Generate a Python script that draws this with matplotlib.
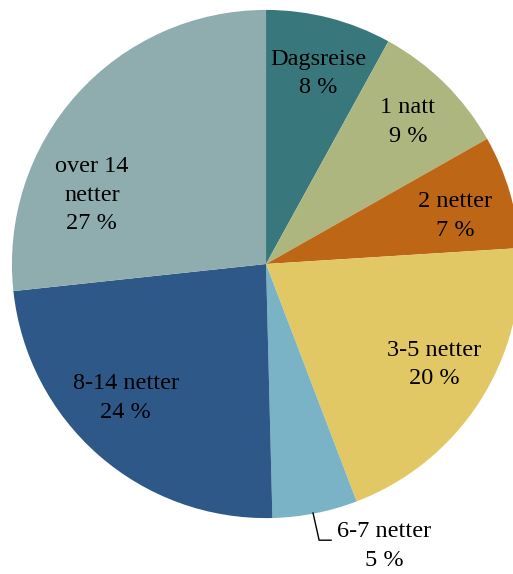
import matplotlib
matplotlib.use("Agg")
import matplotlib.pyplot as plt
import numpy as np

plt.rcParams.update({
    "font.family": ["Liberation Serif", "DejaVu Serif"],
    "font.size": 17.5,
})

categories = ["Dagsreise", "1 natt", "2 netter", "3-5 netter", "6-7 netter", "8-14 netter", "over 14\nnetter"]
shares = [8.0, 8.8, 7.2, 20.2, 5.4, 23.7, 26.7]
colors = ["#38787D", "#AEB67F", "#BD6616", "#E1C864", "#7AB3C5", "#2D5888", "#8FADAF"]

# label placement (angle in degrees, distance as fraction of radius)
label_angle = [74.7, 45.0, 14.25, -30.8, None, 223.7, 158.4]
label_dist = [0.776, 0.79, 0.768, 0.77, None, 0.763, 0.737]

fig = plt.figure(figsize=(5.13, 5.74), dpi=100)
ax = fig.add_axes([0, 0, 1, 1])

wedges, _ = ax.pie(shares, colors=colors, startangle=90, counterclock=False,
                   radius=1.0, wedgeprops=dict(linewidth=0))

for i, (cat, v) in enumerate(zip(categories, shares)):
    txt = f"{cat}\n{v:.0f} %"
    if label_angle[i] is None:
        # outside label with leader line
        ax.plot([0.185, 0.209, 0.256], [-0.980, -1.087, -1.087], color="black", lw=1.0)
        ax.text(0.465, -1.110, txt, ha="center", va="center", linespacing=1.45)
        continue
    a = np.deg2rad(label_angle[i])
    ax.text(label_dist[i] * np.cos(a), label_dist[i] * np.sin(a), txt,
            ha="center", va="center", linespacing=1.45)

ax.set_xlim(-1.047, 0.972)
ax.set_ylim(-1.220, 1.039)
ax.set_aspect("equal")
ax.axis("off")

plt.savefig("out.png", dpi=100)
